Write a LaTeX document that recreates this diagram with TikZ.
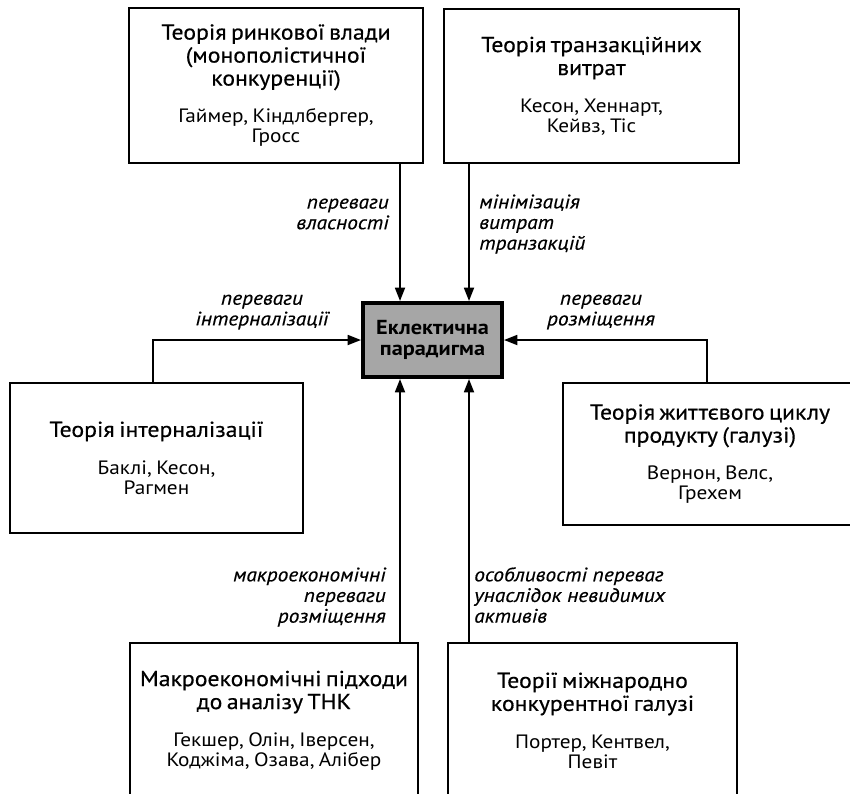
\documentclass[tikz,border=0pt]{standalone}
\usepackage{fontspec}
\setmainfont{PT Sans}
\newfontfamily\headfam[FakeStretch=1.1,FakeBold=0.5]{PT Sans}
\newfontfamily\namefam[FakeStretch=1.1]{PT Sans}
\newfontfamily\notefam[FakeStretch=1.1,FakeBold=0.4]{PT Sans}
\usetikzlibrary{arrows.meta}

% font presets
\newcommand\titlef{\headfam\fontsize{16.2}{17.25}\selectfont}
\newcommand\authf{\namefam\fontsize{14.5}{15}\selectfont}
\newcommand\labf{\notefam\fontsize{14.6}{15.5}\selectfont\itshape}

\tikzset{
  theory/.style={draw, line width=2.2pt, text width=210pt, align=center, inner sep=0pt},
  core/.style={draw, line width=3pt, fill=black!35, align=center, inner sep=0pt,
    font=\namefam\bfseries\fontsize{15.2}{15.5}\selectfont},
  lab/.style={inner sep=0pt, font=\labf},
  arr/.style={line width=1.3pt, -{Triangle[length=10pt,width=7.5pt]}}
}

\newcommand\theorytext[2]{{\titlef #1\par}\vspace{13pt}{\authf #2\par}}

\begin{document}
\begin{tikzpicture}[x=0.75pt,y=-0.75pt]
\useasboundingbox (0,0) rectangle (850,793);
\clip (0,0) rectangle (850,793);

% theory boxes
\node[theory, minimum width=220.5pt, minimum height=116.25pt] (A) at (276,85.5)
  {\theorytext{Теорія ринкової влади\\(монополістичної\\конкуренції)}{Гаймер, Кіндлбергер,\\Гросс}};
\node[theory, minimum width=221.25pt, minimum height=115.5pt] (B) at (591.5,86)
  {\theorytext{Теорія транзакційних\\витрат}{Кесон, Хеннарт,\\Кейвз, Тіс}};
\node[theory, minimum width=219.75pt, minimum height=112.5pt] (C) at (156.5,458)
  {\theorytext{Теорія інтерналізації}{Баклі, Кесон,\\Рагмен}};
\node[theory, minimum width=220.5pt, minimum height=106.5pt] (D) at (710,454)
  {\theorytext{Теорія життєвого циклу\\продукту (галузі)}{Вернон, Велс,\\Грехем}};
\node[theory, minimum width=216pt, minimum height=116.25pt] (E) at (274,720.5)
  {\theorytext{Макроекономічні підходи\\до аналізу ТНК}{Гекшер, Олін, Іверсен,\\Коджіма, Озава, Алібер}};
\node[theory, minimum width=216.75pt, minimum height=116.25pt] (F) at (592.5,720.5)
  {\theorytext{Теорії міжнародно\\конкурентної галузі}{Портер, Кентвел,\\Певіт}};

% central paradigm
\node[core, minimum width=104.25pt, minimum height=55.5pt] (M) at (432.5,340)
  {Еклектична\\парадигма};

% connector guide columns
\coordinate (vL) at (400,0);
\coordinate (vR) at (469,0);
\coordinate (hL) at (153,0);
\coordinate (hR) at (707,0);

% connectors
\draw[arr] (A.south -| vL) -- (M.north -| vL);
\draw[arr] (B.south -| vR) -- (M.north -| vR);
\draw[arr] (C.north -| hL) |- (M.west);
\draw[arr] (D.north -| hR) |- (M.east);
\draw[arr] (E.north -| vL) -- (M.south -| vL);
\draw[arr] (F.north -| vR) -- (M.south -| vR);

% connector labels
\node[lab, anchor=east, align=right] (l1) at (389,214) {переваги\\власності};
\node[lab, anchor=west, align=left] (l2) at (479,224) {мінімізація\\витрат\\транзакцій};
\node[lab, align=center] (l3) at (262,312) {переваги\\інтерналізації};
\node[lab, align=center] (l4) at (601,312) {переваги\\розміщення};
\node[lab, anchor=east, align=right] (l5) at (386,597) {макроекономічні\\переваги\\розміщення};
\node[lab, anchor=west, align=left] (l6) at (474,595) {особливості переваг\\унаслідок невидимих\\активів};
\end{tikzpicture}
\end{document}
